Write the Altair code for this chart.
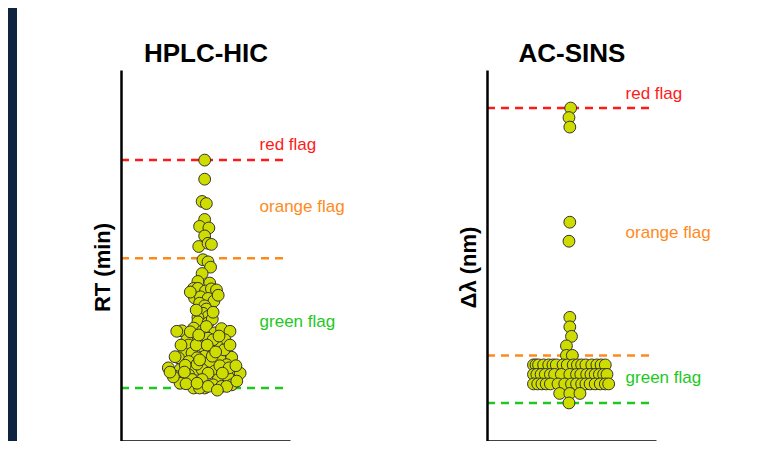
import altair as alt
import pandas as pd

# ---------------- data ----------------
# HPLC-HIC retention times (min) and beeswarm jitter (-1..1)
HIC_RT = [12.30, 11.94, 11.52, 11.48, 11.18, 11.05, 11.02, 10.87, 10.67, 10.73,
          10.71, 10.42, 10.38, 10.28, 10.16, 10.01, 9.98, 9.88, 9.88, 9.83,
          9.87, 9.85, 9.70, 9.72, 9.69, 9.64, 9.60, 9.55, 9.49, 9.41,
          9.35, 9.33, 9.25, 9.23, 9.30, 9.08, 9.07, 9.13, 9.07, 9.16,
          9.04, 9.12, 9.07, 8.94, 8.98, 8.91, 8.91, 8.79, 8.82, 8.81,
          8.72, 8.66, 8.66, 8.60, 8.57, 8.57, 8.58, 8.57, 8.50, 8.50,
          8.44, 8.38, 8.35, 8.35, 8.35, 8.32, 8.25, 8.28, 8.25, 8.28,
          8.22, 8.16, 8.16, 8.16, 8.20, 8.09, 8.00, 8.00, 8.06, 8.03,
          8.06, 8.00, 8.03, 8.03, 8.59, 8.21, 8.43, 8.45, 8.42, 8.60,
          9.06, 8.81, 8.72, 8.08, 7.96, 8.13, 8.30, 8.38, 8.91,
          9.00, 8.98, 8.81, 8.81, 8.81, 8.53, 8.68, 8.30, 8.28, 8.09,
          8.42, 9.81, 9.75, 9.47, 9.43]
HIC_JITTER = [-0.01, -0.01, -0.04, 0.01, -0.01, -0.07, 0.04, -0.01, -0.08, 0.03,
              0.07, -0.03, 0.03, 0.06, -0.04, -0.09, 0.05, -0.14, -0.09, 0.00,
              0.07, 0.13, -0.13, -0.06, 0.03, 0.10, -0.07, -0.01, 0.01, -0.03,
              0.03, -0.09, -0.09, 0.03, 0.08, -0.28, -0.34, -0.14, -0.04, 0.01,
              0.11, 0.19, 0.29, 0.03, -0.12, -0.22, 0.23, -0.04, 0.13, -0.20,
              0.07, -0.26, -0.16, -0.01, -0.10, 0.17, 0.31, -0.32, -0.20, 0.05,
              0.25, -0.44, -0.30, -0.12, -0.04, 0.11, -0.20, 0.03, 0.35, 0.41,
              -0.36, -0.16, -0.04, 0.15, 0.27, -0.30, -0.14, -0.01, 0.09, 0.19,
              0.31, -0.07, 0.03, 0.25, -0.36, -0.38, -0.24, -0.10, 0.17, 0.08,
              -0.18, -0.11, 0.22, -0.23, 0.14, 0.37, -0.42, 0.28, 0.09,
              -0.08, 0.16, 0.02, -0.29, 0.29, -0.07, 0.12, -0.25, 0.20, -0.10,
              0.36, -0.18, 0.15, -0.11, 0.09]

# AC-SINS wavelength shifts (nm) and beeswarm jitter
SINS_DL = [31, 30, 29, 19, 17, 9, 8, 7, 6, 5, 5,
           4, 4, 4, 4, 4, 4, 4, 4, 4, 4, 4, 4, 4, 4, 4, 4, 4,
           3, 3, 3, 3, 3, 3, 3, 3, 3, 3, 3, 3, 3, 3, 3, 3,
           2, 2, 2, 2, 2, 2, 2, 2, 2, 2, 2, 2, 2, 2, 2, 2,
           1, 1, 1, 0]
SINS_JITTER = [-0.01, -0.03, -0.02, -0.02, -0.03, -0.02, -0.02, 0.00, -0.06, -0.06, 0.01,
               -0.45, -0.42, -0.39, -0.33, -0.27, -0.22, -0.18, -0.10, -0.05, 0.02, 0.07, 0.12, 0.17, 0.24, 0.30, 0.35, 0.40,
               -0.45, -0.41, -0.36, -0.31, -0.25, -0.20, -0.12, -0.02, 0.06, 0.11, 0.18, 0.23, 0.28, 0.33, 0.38, 0.42,
               -0.45, -0.40, -0.35, -0.30, -0.25, -0.16, -0.08, 0.00, 0.06, 0.12, 0.17, 0.22, 0.28, 0.34, 0.40, 0.44,
               -0.14, -0.02, 0.10, -0.03]

FLAG_NAMES = ["red flag", "orange flag", "green flag"]
FLAG_COLORS = ["#ff1a1a", "#ff8a1c", "#1ec81e"]
HIC_THRESH = [12.3, 10.45, 8.0]
SINS_THRESH = [31, 5, 0]
HIC_LABEL_Y = [12.58, 11.42, 9.25]
SINS_LABEL_Y = [32.5, 17.9, 2.6]

FONT = "Liberation Sans"
NAVY = "#0e2441"
PW, PH = 169, 371


def panel(title, ytitle, values, jitter, thresh, label_y, ydomain, with_bg=False):
    pts = pd.DataFrame({"j": jitter, "v": values})
    flags = pd.DataFrame({"name": FLAG_NAMES, "color": FLAG_COLORS,
                          "t": thresh, "ly": label_y,
                          "x0": [-1.0] * 3, "x1": [0.92] * 3, "lx": [0.64] * 3})
    xs = alt.Scale(domain=[-1, 1], nice=False, zero=False)
    ys = alt.Scale(domain=ydomain, nice=False, zero=False)
    xaxis = alt.Axis(title=None, labels=False, ticks=False, grid=False,
                     domainColor="black", domainWidth=2.5, zindex=1)
    # the panel heading is carried by a top axis title
    topaxis = alt.Axis(orient="top", title=title, labels=False, ticks=False,
                       grid=False, domain=False, zindex=1,
                       titleFont=FONT, titleFontSize=26, titleFontWeight="bold",
                       titleColor="black", titlePadding=4)
    yaxis = alt.Axis(title=ytitle, labels=False, ticks=False, grid=False,
                     domainColor="black", domainWidth=2.5, zindex=1,
                     titleFont=FONT, titleFontSize=22, titleFontWeight="bold",
                     titleColor="black", titlePadding=7, titleY=197)

    rules = alt.Chart(flags).mark_rule(strokeDash=[8, 6], strokeWidth=2.5).encode(
        x=alt.X("x0:Q", scale=xs, axis=xaxis),
        x2="x1:Q",
        y=alt.Y("t:Q", scale=ys, axis=yaxis),
        color=alt.Color("color:N", scale=None),
    )
    labels = alt.Chart(flags).mark_text(align="left", baseline="middle",
                                        font=FONT, fontSize=17).encode(
        x=alt.X("lx:Q", scale=xs, axis=topaxis),
        y=alt.Y("ly:Q", scale=ys),
        text="name:N",
        color=alt.Color("color:N", scale=None),
    )
    dots = alt.Chart(pts).mark_point(shape="circle", filled=True, fill="#cfdc00",
                                     stroke="#333333", strokeWidth=1, size=140,
                                     opacity=1).encode(
        x=alt.X("j:Q", scale=xs, axis=None),
        y=alt.Y("v:Q", scale=ys),
    )
    layers = [rules, labels, dots]
    if with_bg:
        bg = alt.Chart(alt.Data(values=[{"a": 1}])).mark_rect(color="white").encode(
            x=alt.value(-104), x2=alt.value(633),
            y=alt.value(-62), y2=alt.value(PH),
        )
        layers = [bg] + layers
    return alt.layer(*layers).resolve_axis(x="independent").properties(
        width=PW, height=PH,
    )


left = panel("HPLC-HIC", "RT (min)", HIC_RT, HIC_JITTER, HIC_THRESH, HIC_LABEL_Y,
             [7, 14], with_bg=True)
right = panel("AC-SINS", "Δλ (nm)", SINS_DL, SINS_JITTER, SINS_THRESH, SINS_LABEL_Y,
              [-4, 35])

chart = alt.hconcat(left, right, spacing=197, bounds="flush").properties(
    background=NAVY,
    padding={"left": 9, "top": 0, "right": 0, "bottom": 0},
).configure_view(stroke=None)

chart.save("out.html", embed_options={"renderer": "svg", "actions": False})
